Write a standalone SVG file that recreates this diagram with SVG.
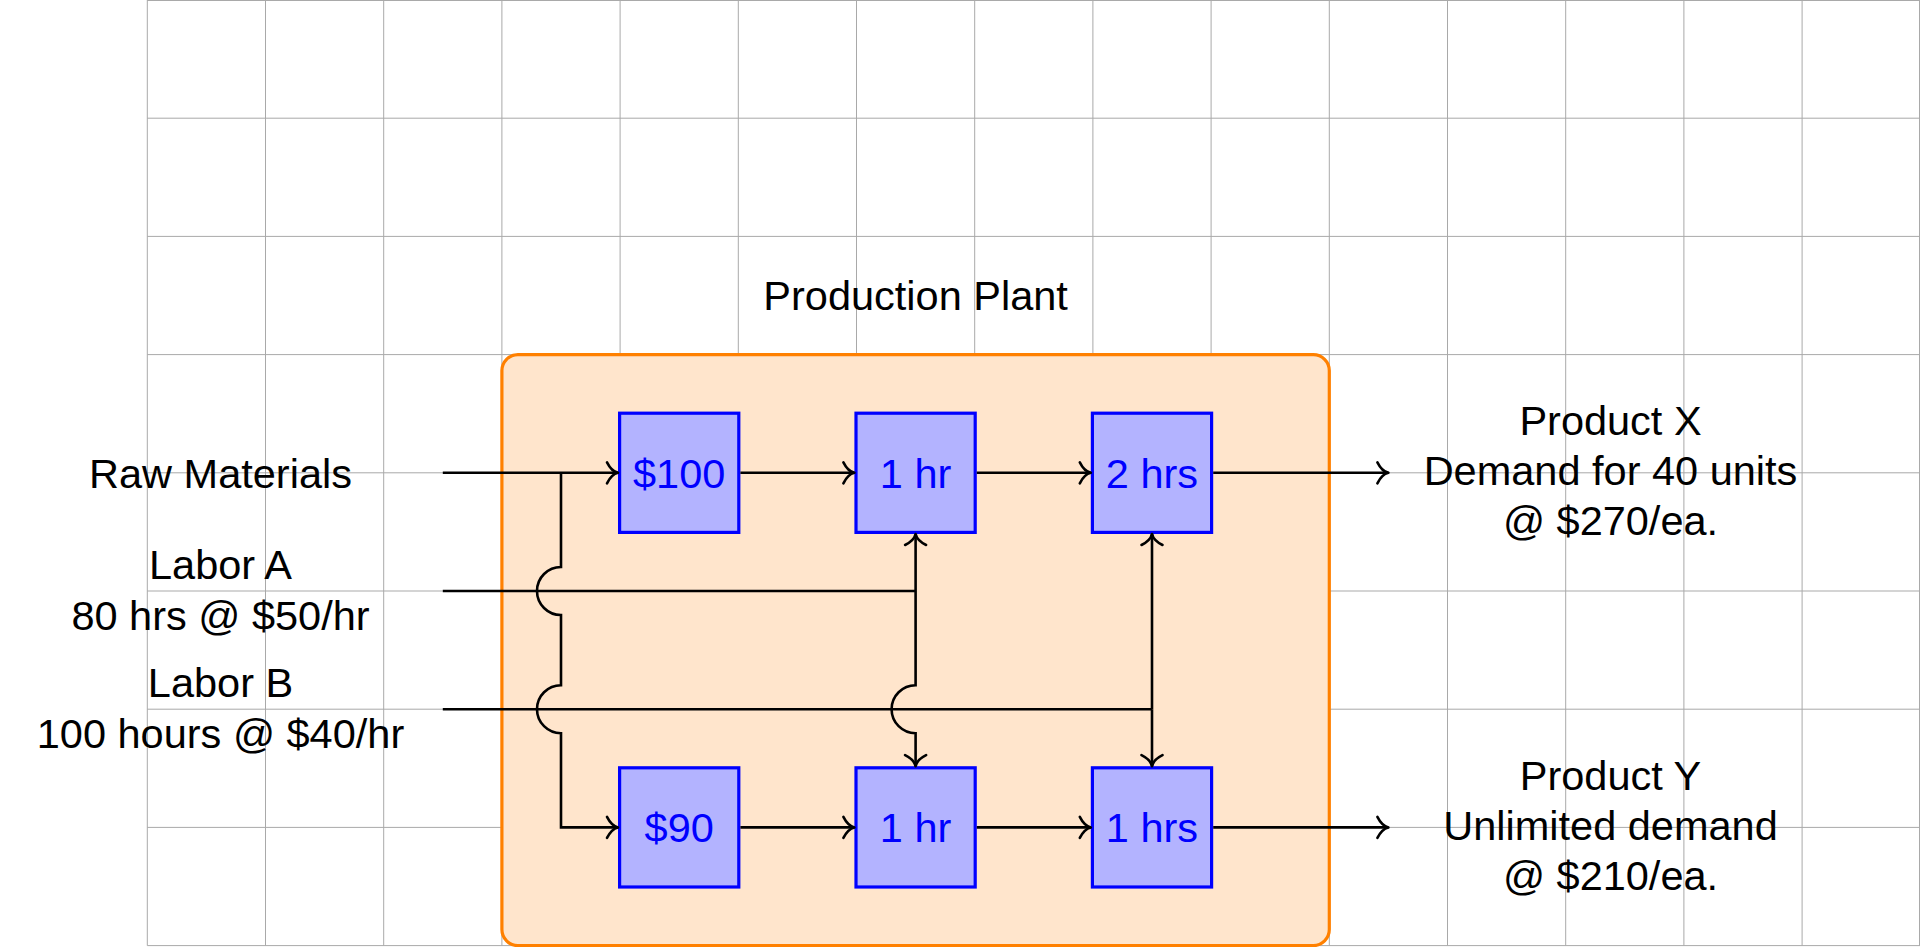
<svg xmlns="http://www.w3.org/2000/svg" width="1920" height="947" viewBox="0 0 1920 947">
  <style>
    .grid line { stroke: #a9a9a9; stroke-width: 1; }
    .lbl { font-family: "Liberation Sans", Arial, Helvetica, sans-serif; font-size: 41.5px; fill: #000; text-anchor: middle; }
    .box rect { fill: #b3b3ff; stroke: #0000ff; stroke-width: 3.2; }
    .box text { font-family: "Liberation Sans", Arial, Helvetica, sans-serif; font-size: 41.5px; fill: #0000ff; text-anchor: middle; }
    .conn path { fill: none; stroke: #000; stroke-width: 2.6; }
    .arr path { marker-end: url(#to); }
  </style>
  <defs>
    <marker id="to" markerUnits="userSpaceOnUse" viewBox="-14 -14 16 28" refX="0" refY="0" markerWidth="16" markerHeight="28" orient="auto" overflow="visible">
      <path d="M -11 -10.5 Q -6.5 -1.5 0 0 Q -6.5 1.5 -11 10.5" fill="none" stroke="#000" stroke-width="2.6" stroke-linecap="round" stroke-linejoin="round"/>
    </marker>
  </defs>
  <rect width="1920" height="947" fill="#ffffff"/>
  <g id="grid" class="grid">
    <line x1="147.3" y1="0" x2="147.3" y2="945.6"/>
    <line x1="265.5" y1="0" x2="265.5" y2="945.6"/>
    <line x1="383.7" y1="0" x2="383.7" y2="945.6"/>
    <line x1="501.9" y1="0" x2="501.9" y2="945.6"/>
    <line x1="620.1" y1="0" x2="620.1" y2="945.6"/>
    <line x1="738.3" y1="0" x2="738.3" y2="945.6"/>
    <line x1="856.5" y1="0" x2="856.5" y2="945.6"/>
    <line x1="974.7" y1="0" x2="974.7" y2="945.6"/>
    <line x1="1092.9" y1="0" x2="1092.9" y2="945.6"/>
    <line x1="1211.1" y1="0" x2="1211.1" y2="945.6"/>
    <line x1="1329.3" y1="0" x2="1329.3" y2="945.6"/>
    <line x1="1447.5" y1="0" x2="1447.5" y2="945.6"/>
    <line x1="1565.7" y1="0" x2="1565.7" y2="945.6"/>
    <line x1="1683.9" y1="0" x2="1683.9" y2="945.6"/>
    <line x1="1802.1" y1="0" x2="1802.1" y2="945.6"/>
    <line x1="1919.5" y1="0" x2="1919.5" y2="945.6"/>
    <line x1="147.3" y1="0.5" x2="1920" y2="0.5"/>
    <line x1="147.3" y1="118.2" x2="1920" y2="118.2"/>
    <line x1="147.3" y1="236.4" x2="1920" y2="236.4"/>
    <line x1="147.3" y1="354.6" x2="1920" y2="354.6"/>
    <line x1="147.3" y1="472.8" x2="1920" y2="472.8"/>
    <line x1="147.3" y1="591" x2="1920" y2="591"/>
    <line x1="147.3" y1="709.2" x2="1920" y2="709.2"/>
    <line x1="147.3" y1="827.4" x2="1920" y2="827.4"/>
    <line x1="147.3" y1="945.6" x2="1920" y2="945.6"/>
  </g>
  <g id="plant">
    <rect x="501.9" y="354.6" width="827.4" height="591" rx="16" ry="16" fill="#ffe5cc" stroke="#ff8000" stroke-width="3.2"/>
    <text class="lbl" x="915.6" y="310">Production Plant</text>
  </g>
  <g id="raw-materials"><text class="lbl" x="220.5" y="487.7">Raw Materials</text></g>
  <g id="labor-a">
    <text class="lbl" x="220.5" y="578.5">Labor A</text>
    <text class="lbl" x="220.5" y="630">80 hrs @ $50/hr</text>
  </g>
  <g id="labor-b">
    <text class="lbl" x="220.5" y="696.7">Labor B</text>
    <text class="lbl" x="220.5" y="748.2">100 hours @ $40/hr</text>
  </g>
  <g id="product-x">
    <text class="lbl" x="1610.5" y="435">Product X</text>
    <text class="lbl" x="1610.5" y="485">Demand for 40 units</text>
    <text class="lbl" x="1610.5" y="535">@ $270/ea.</text>
  </g>
  <g id="product-y">
    <text class="lbl" x="1610.5" y="789.6">Product Y</text>
    <text class="lbl" x="1610.5" y="839.6">Unlimited demand</text>
    <text class="lbl" x="1610.5" y="889.6">@ $210/ea.</text>
  </g>
  <g id="x-material" class="box"><rect x="619.6" y="413.2" width="119.2" height="119.2"/><text x="679.2" y="487.7">$100</text></g>
  <g id="x-step1" class="box"><rect x="856" y="413.2" width="119.2" height="119.2"/><text x="915.6" y="487.7">1 hr</text></g>
  <g id="x-step2" class="box"><rect x="1092.4" y="413.2" width="119.2" height="119.2"/><text x="1152" y="487.7">2 hrs</text></g>
  <g id="y-material" class="box"><rect x="619.6" y="767.8" width="119.2" height="119.2"/><text x="679.2" y="842.3">$90</text></g>
  <g id="y-step1" class="box"><rect x="856" y="767.8" width="119.2" height="119.2"/><text x="915.6" y="842.3">1 hr</text></g>
  <g id="y-step2" class="box"><rect x="1092.4" y="767.8" width="119.2" height="119.2"/><text x="1152" y="842.3">1 hrs</text></g>
  <g id="connectors" class="conn">
    <path d="M 442.8 591 H 915.6"/>
    <path d="M 442.8 709.2 H 1152"/>
    <g class="arr">
      <path d="M 442.8 472.8 H 618"/>
      <path d="M 561 472.8 V 567 A 24 24 0 0 0 561 615 V 685.2 A 24 24 0 0 0 561 733.2 V 827.4 H 618"/>
      <path d="M 915.6 591 V 534"/>
      <path d="M 915.6 591 V 685.2 A 24 24 0 0 0 915.6 733.2 V 766.2"/>
      <path d="M 1152 709.2 V 534"/>
      <path d="M 1152 709.2 V 766.2"/>
      <path d="M 740.4 472.8 H 854.4"/>
      <path d="M 976.8 472.8 H 1090.8"/>
      <path d="M 1213.2 472.8 H 1388.4"/>
      <path d="M 740.4 827.4 H 854.4"/>
      <path d="M 976.8 827.4 H 1090.8"/>
      <path d="M 1213.2 827.4 H 1388.4"/>
    </g>
  </g>
</svg>
